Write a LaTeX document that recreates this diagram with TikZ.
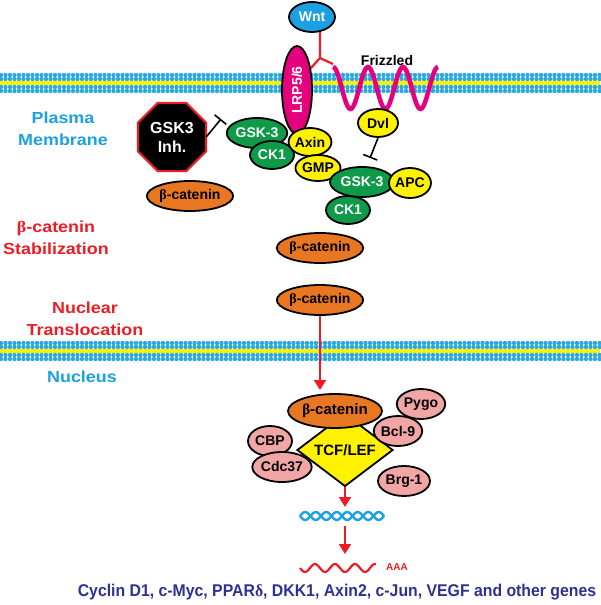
\documentclass[tikz,border=0pt]{standalone}
\usepackage{fontspec}
\setmainfont{Liberation Sans}
\newfontfamily\grk{Liberation Serif}
\usetikzlibrary{shapes.geometric,arrows.meta}
\definecolor{cyanb}{HTML}{1BA1E2}
\definecolor{memb}{HTML}{2AA8E0}
\definecolor{mag}{HTML}{E5007E}
\definecolor{grn}{HTML}{0E9A48}
\definecolor{yel}{HTML}{FFF200}
\definecolor{org}{HTML}{E87722}
\definecolor{pnk}{HTML}{F2A5A5}
\definecolor{rd}{HTML}{ED1C24}
\definecolor{nav}{HTML}{2E3192}
\newcommand{\bcat}{{\grk β}-catenin}
\begin{document}
\begin{tikzpicture}[x=1pt,y=-1pt,
  every node/.style={font=\fontsize{14}{15}\selectfont\bfseries},
  prot/.style={ellipse,draw=black,line width=1.8pt,inner sep=0pt},
  gr/.style={prot,fill=grn,text=white},
  ye/.style={prot,fill=yel},
  og/.style={prot,fill=org},
  pk/.style={prot,fill=pnk},
  lab/.style={align=center,xscale=1.12,font=\fontsize{16}{22}\selectfont\bfseries},
  inh/.style={line width=1.6pt,-{Bar[width=15pt]}},
  rarr/.style={rd,line width=2.2pt,-{Triangle[width=12pt,length=10pt]}}]
\useasboundingbox (0,0) rectangle (600,605);
% membranes
\foreach \c in {83,351}{
  \fill[yel] (0,\c-1.6) rectangle (600,\c+1.6);
  \foreach \r in {-8,-4,4,8}{
    \foreach \i in {0,...,133}{
      \fill[memb] (\i*4.5+1,\c+\r) circle (2.2);
    }
  }
}
% Wnt
\node[prot,fill=cyanb,text=white,minimum width=46pt,minimum height=30pt] (wnt) at (312,17) {Wnt};
\coordinate (yb) at (320,58);
\draw[rd,line width=2.2pt] (wnt.south) ++(8,-1) -- (yb) (yb) -- (310,69) (yb) -- (333,64);
\node at (387,60) {Frizzled};
\draw[mag,line width=4.5pt,domain=0:105,samples=80,smooth] plot ({333+\x},{88-21*cos(10.2857*\x)});
% left complex
\node[gr,minimum width=60pt,minimum height=30pt] (gsk1) at (257,133) {GSK-3};
\node[gr,minimum width=44pt,minimum height=28pt] (ck1) at (272,155) {CK1};
\node[prot,fill=mag,minimum width=30pt,minimum height=88pt] (lrp) at (297,90) {};
\node[rotate=90,text=white] at (lrp) {LRP5/6};
\node[ye,minimum width=40pt,minimum height=28pt] (axin) at (310,142) {Axin};
\node[ye,minimum width=40pt,minimum height=26pt] (gmp) at (318,168) {GMP};
\node[gr,minimum width=44pt,minimum height=28pt] (ck2) at (348,210) {CK1};
\node[gr,minimum width=64pt,minimum height=30pt] (gsk2) at (362,182) {GSK-3};
\node[ye,minimum width=42pt,minimum height=30pt] (apc) at (410,183) {APC};
\node[ye,minimum width=40pt,minimum height=28pt] (dvl) at (378,123) {Dvl};
\draw[inh] (dvl.south) -- (370,158);
\node[regular polygon,regular polygon sides=8,fill=black,draw=rd,line width=2pt,minimum size=74pt,text=white,align=center,inner sep=0pt,font=\fontsize{16}{19}\selectfont\bfseries] (gi) at (172,137) {GSK3\\Inh.};
\draw[inh] (gi.east) ++(-1,0) -- (221,119);
\node[og,minimum width=78pt,minimum height=30pt] (b1) at (190,196) {\bcat};
\node[og,minimum width=78pt,minimum height=30pt] (b2) at (320,248) {\bcat};
\node[og,minimum width=78pt,minimum height=30pt] (b3) at (320,300) {\bcat};
\draw[rarr] (b3.south) -- (320,390);
% labels
\node[lab,text=cyanb] at (63,129) {Plasma\\Membrane};
\node[lab,text=rd] at (56,238) {\bcat\\Stabilization};
\node[lab,text=rd] at (85,319) {Nuclear\\Translocation};
\node[lab,text=cyanb] at (82,377) {Nucleus};
% nucleus complex
\node[diamond,fill=yel,draw=black,line width=1.8pt,minimum width=96pt,minimum height=72pt,inner sep=0pt,font=\fontsize{15}{16}\selectfont\bfseries] (tcf) at (345,450) {TCF/LEF};
\node[og,minimum width=94pt,minimum height=34pt,font=\fontsize{15}{16}\selectfont\bfseries] (b4) at (335,411) {\bcat};
\node[pk,minimum width=48pt,minimum height=30pt] (pygo) at (421,404) {Pygo};
\node[pk,minimum width=48pt,minimum height=30pt] (bcl) at (398,431) {Bcl-9};
\node[pk,minimum width=44pt,minimum height=30pt] (cbp) at (270,441) {CBP};
\node[pk,minimum width=54pt,minimum height=30pt] (cdc) at (282,467) {Cdc37};
\node[pk,minimum width=52pt,minimum height=30pt] (brg) at (404,481) {Brg-1};
\draw[rarr] (tcf.south) -- (345,507);
\foreach \p in {0,180}{
  \draw[cyanb,line width=2.4pt,domain=0:84,samples=70,smooth] plot ({300+\x},{516+4*sin(17.1429*\x+\p)});
}
\draw[rarr] (345,526) -- (345,554);
\draw[rd,line width=2.2pt,domain=0:76,samples=60,smooth] plot ({300+\x},{568+4*sin(18*\x)});
\node[text=rd,font=\fontsize{10}{11}\selectfont\bfseries] (aaa) at (397,567) {AAA};
\node[text=nav,xscale=0.93,font=\fontsize{17}{18}\selectfont\bfseries] at (337,592) {Cyclin D1, c-Myc, PPAR{\grk δ}, DKK1, Axin2, c-Jun, VEGF and other genes};
\end{tikzpicture}
\end{document}
